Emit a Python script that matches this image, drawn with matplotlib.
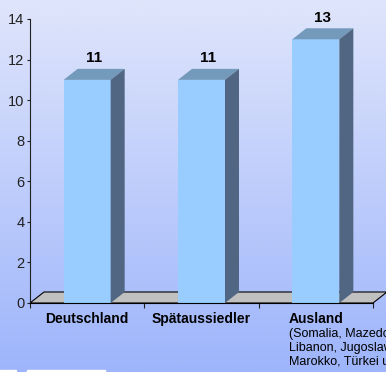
import numpy as np
import matplotlib
matplotlib.use("Agg")
import matplotlib.pyplot as plt
from matplotlib.patches import Polygon, Rectangle

# data
categories = ["Deutschland", "Spätaussiedler", "Ausland"]
values = [11, 11, 13]
value_labels = ["11", "11", "13"]
sub_lines = ["(Somalia, Mazedonien,", "Libanon, Jugoslawien,", "Marokko, Türkei u.a.)"]
y_ticks = [0, 2, 4, 6, 8, 10, 12, 14]

FRONT = "#99ccff"
TOP = "#7399bb"
SIDE = "#506682"
FLOOR = "#c0c0c0"

W, H = 386, 372
plt.rcParams["font.family"] = ["Liberation Sans", "DejaVu Sans"]

fig = plt.figure(figsize=(W / 100, H / 100), dpi=100)

# background gradient
bg = fig.add_axes([0, 0, 1, 1], zorder=-5)
top_c = np.array([223, 229, 251]) / 255
bot_c = np.array([158, 181, 251]) / 255
t = np.linspace(0, 1, 256)[:, None]
grad = top_c[None, :] * (1 - t) + bot_c[None, :] * t
bg.imshow(grad[:, None, :], aspect="auto", extent=[0, 1, 0, 1])
bg.set_axis_off()
# small white strip at the very bottom
bg.add_patch(Rectangle((0, 0), 16 / W, 2 / H, color="white", transform=bg.transAxes))
bg.add_patch(Rectangle((27 / W, 0), 78 / W, 2 / H, color="white", transform=bg.transAxes))

# main axes, mapped onto pixel positions
x0, x1, y0, y1 = 30, 373, 303, 19
ax = fig.add_axes([x0 / W, (H - y0) / H, (x1 - x0) / W, (y0 - y1) / H])
ax.set_xlim(0, 3)
ax.set_ylim(0, 14)
ax.patch.set_alpha(0)

px_x = 3 / (x1 - x0)
px_y = 14 / (y0 - y1)
DX = 14 * px_x
DY = 11 * px_y
bw = 47 * px_x

# floor
floor = Polygon([(0, 0), (3, 0), (3 + DX, DY), (DX, DY)], closed=True,
                facecolor=FLOOR, edgecolor="black", lw=0.8, clip_on=False, zorder=1)
ax.add_patch(floor)

centers = np.arange(len(categories)) + 0.5
ax.bar(centers, values, width=bw, color=FRONT, zorder=3, clip_on=False)
for c, v, lab in zip(centers, values, value_labels):
    l, r = c - bw / 2, c + bw / 2
    ax.add_patch(Polygon([(l, v), (r, v), (r + DX, v + DY), (l + DX, v + DY)],
                         closed=True, facecolor=TOP, edgecolor="none", zorder=3, clip_on=False))
    ax.add_patch(Polygon([(r, 0), (r + DX, DY), (r + DX, v + DY), (r, v)],
                         closed=True, facecolor=SIDE, edgecolor="none", zorder=3, clip_on=False))
    ax.text(c + DX / 2, v + DY + 0.32, lab, ha="center", va="baseline",
            fontsize=11, fontweight="bold", color="black", clip_on=False)

# axes styling
for s in ["top", "right", "bottom"]:
    ax.spines[s].set_visible(False)
ax.spines["left"].set_color("#222222")
ax.spines["left"].set_linewidth(0.8)
ax.set_yticks(y_ticks)
ax.tick_params(axis="y", direction="out", length=2.5, width=0.8, pad=1.5,
               labelsize=10.5, colors="#222222")
ax.set_xticks([0, 1, 2, 3])
ax.set_xticklabels([])
ax.tick_params(axis="x", direction="out", length=3.5, width=0.8, colors="#222222")
ax.plot([0, 3], [0, 0], color="black", lw=0.8, zorder=4, clip_on=False)

# category labels
base_y = -20 * px_y
for c, name in zip(centers[:2], categories[:2]):
    ax.text(c, base_y, name, ha="center", va="baseline", fontsize=10,
            fontweight="bold", clip_on=False)
ax.text(2 + 30 * px_x, base_y, categories[2], ha="left", va="baseline",
        fontsize=10, fontweight="bold", clip_on=False)
for i, line in enumerate(sub_lines):
    ax.text(2 + 30 * px_x, base_y - (14 + 14 * i) * px_y, line, ha="left",
            va="baseline", fontsize=9, clip_on=False)

fig.savefig("out.png", dpi=100)
